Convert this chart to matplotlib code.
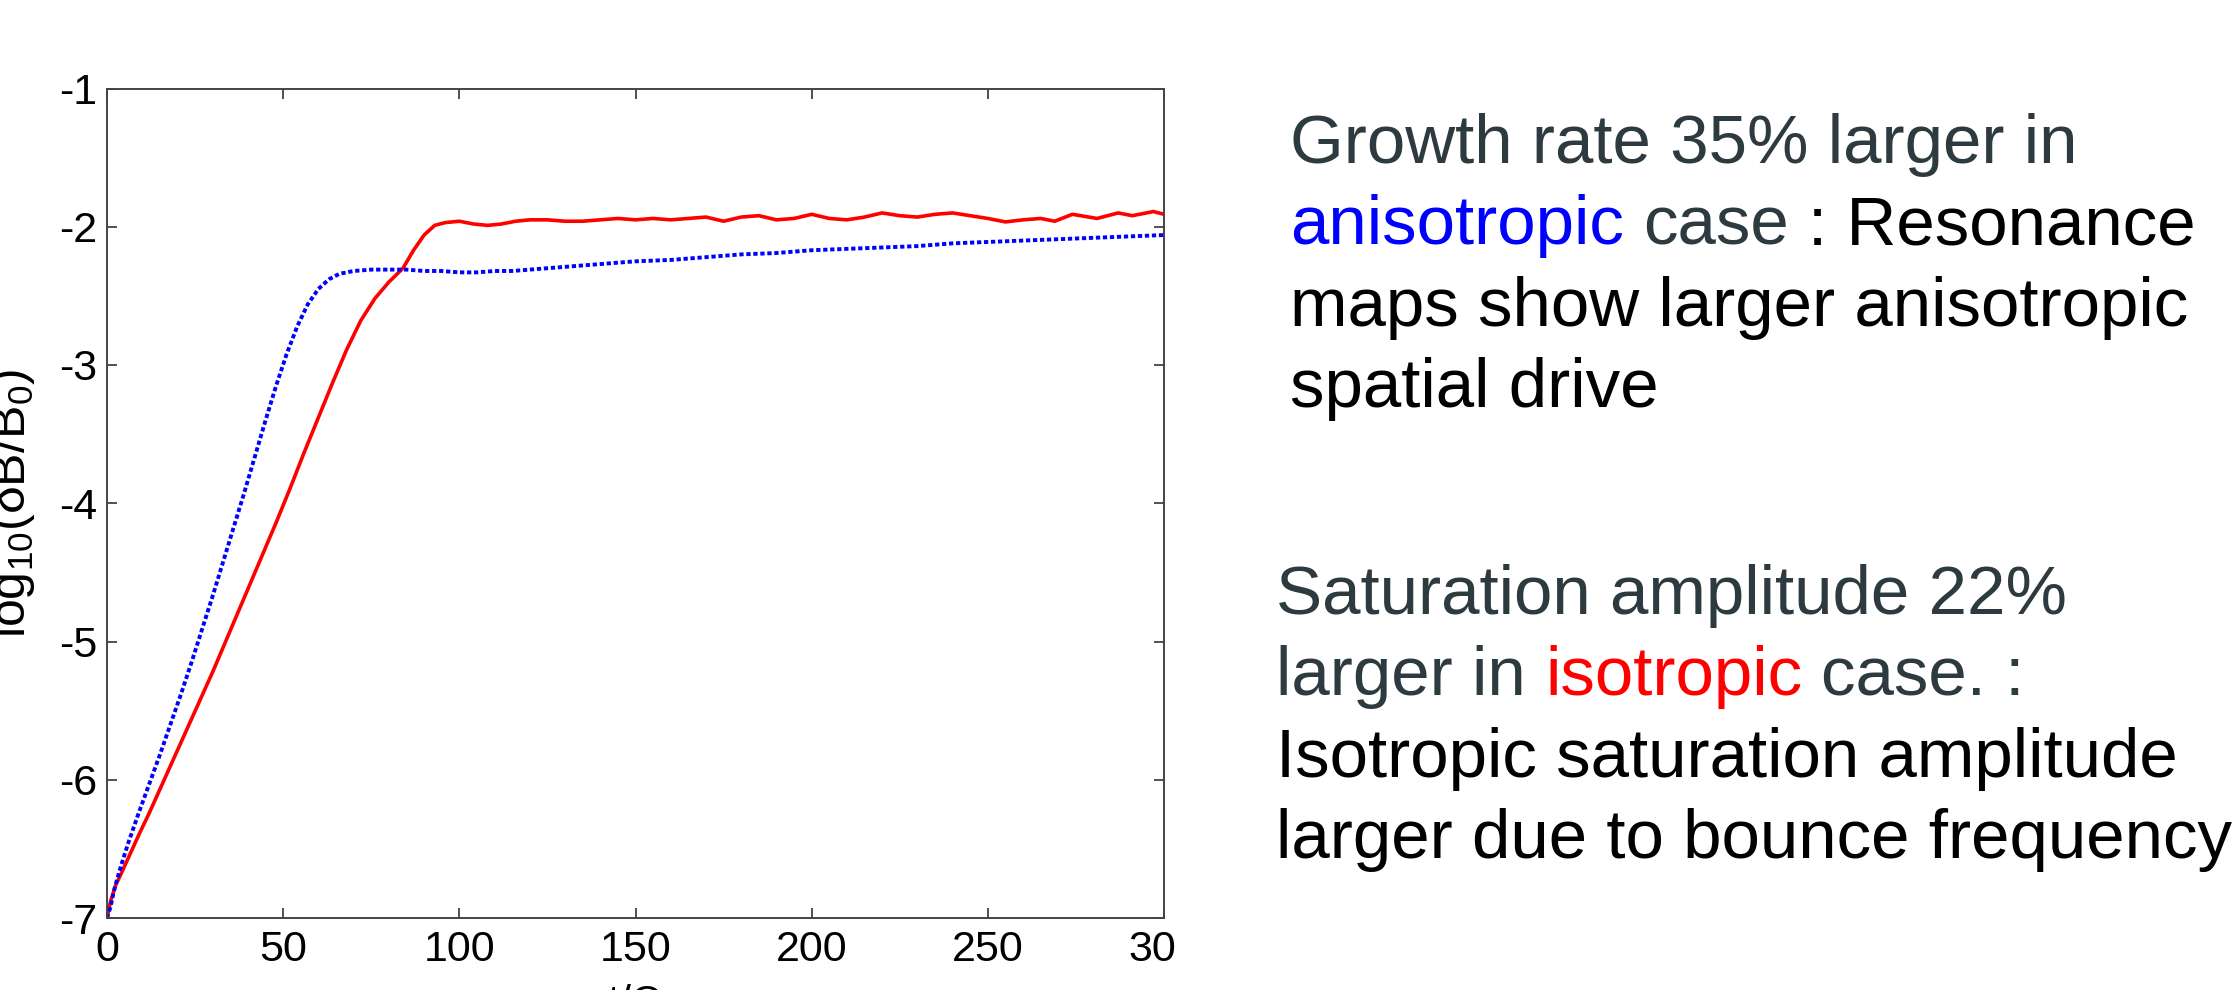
import numpy as np
import matplotlib
matplotlib.use('Agg')
import matplotlib.pyplot as plt
from matplotlib.patches import Rectangle

plt.rcParams['font.family'] = ['Liberation Sans', 'DejaVu Sans']
plt.rcParams['axes.unicode_minus'] = False
plt.rcParams['mathtext.fontset'] = 'custom'
plt.rcParams['mathtext.rm'] = 'Liberation Sans'
plt.rcParams['mathtext.it'] = 'Liberation Sans'

# isotropic run (red, solid)
t_iso = [0, 1, 2.5, 4, 6.5, 9, 12, 15, 18, 21, 24, 27, 30, 33, 36, 40, 44, 48,
         52, 56, 60, 64, 68, 72, 76, 80, 84, 87, 90, 93, 96, 100, 104, 108,
         112, 116, 120, 125, 130, 135, 140, 145, 150, 155, 160, 165, 170, 175,
         180, 185, 190, 195, 200, 205, 210, 215, 220, 225, 230, 235, 240, 245,
         250, 255, 260, 265, 269, 274, 281, 287, 291, 297, 300]
b_iso = [-7.0, -6.88, -6.76, -6.68, -6.54, -6.40, -6.24, -6.07, -5.90, -5.73,
         -5.56, -5.39, -5.22, -5.04, -4.86, -4.62, -4.38, -4.14, -3.89, -3.63,
         -3.38, -3.13, -2.89, -2.68, -2.52, -2.40, -2.30, -2.17, -2.06, -1.99,
         -1.97, -1.96, -1.98, -1.99, -1.98, -1.96, -1.95, -1.95, -1.96, -1.96,
         -1.95, -1.94, -1.95, -1.94, -1.95, -1.94, -1.93, -1.96, -1.93, -1.92,
         -1.95, -1.94, -1.91, -1.94, -1.95, -1.93, -1.90, -1.92, -1.93, -1.91,
         -1.90, -1.92, -1.94, -1.965, -1.95, -1.94, -1.96, -1.91, -1.94, -1.90,
         -1.92, -1.89, -1.91]

# anisotropic run (blue, dotted)
t_ani = [0, 1, 2, 4, 6, 9, 12, 15, 18, 21, 24, 27, 30, 33, 36, 39, 42, 45, 48,
         51, 54, 57, 60, 63, 66, 70, 75, 80, 85, 90, 95, 100, 105, 110, 115,
         120, 130, 140, 150, 160, 170, 180, 190, 200, 210, 220, 230, 240, 250,
         260, 270, 280, 290, 300]
b_ani = [-7.0, -6.92, -6.80, -6.62, -6.46, -6.24, -6.03, -5.82, -5.60, -5.38,
         -5.15, -4.91, -4.67, -4.42, -4.17, -3.92, -3.66, -3.40, -3.15, -2.92,
         -2.72, -2.56, -2.45, -2.38, -2.34, -2.32, -2.31, -2.31, -2.31, -2.32,
         -2.32, -2.33, -2.33, -2.32, -2.32, -2.31, -2.29, -2.27, -2.25, -2.24,
         -2.22, -2.20, -2.19, -2.17, -2.16, -2.15, -2.14, -2.12, -2.11, -2.10,
         -2.09, -2.08, -2.07, -2.06]

xticks = [0, 50, 100, 150, 200, 250, 300]
yticks = [-7, -6, -5, -4, -3, -2, -1]

W, H = 2240, 990
fig = plt.figure(figsize=(W / 100, H / 100), dpi=100)
fig.patch.set_facecolor('white')

ax = fig.add_axes([107 / W, (H - 918) / H, (1164 - 107) / W, (918 - 88.5) / H])
ax.plot(t_iso, b_iso, color='red', lw=2.6, solid_capstyle='round')
ax.plot(t_ani, b_ani, color='blue', lw=2.8, ls=(0, (1.1, 0.7)))

ax.set_xlim(0, 300)
ax.set_ylim(-7, -1)
ax.set_xticks(xticks)
ax.set_yticks(yticks)
ax.set_xticklabels([str(v) for v in xticks])
ax.set_yticklabels([str(v) for v in yticks])
for s in ax.spines.values():
    s.set_color('#444444')
    s.set_linewidth(1.4)
ax.tick_params(direction='in', top=True, right=True, length=7.5, width=1.2,
               color='#333333', labelsize=31, labelcolor='black')
ax.tick_params(axis='x', pad=8.5)
ax.tick_params(axis='y', pad=7.0)

ax.set_ylabel(r'log$_{10}$($\delta$B/B$_0$)', fontsize=36)
ax.yaxis.set_label_coords(-0.066, 0.5)
ax.set_xlabel('t/\u03a9', fontsize=31)
ax.xaxis.set_label_coords(0.5, -0.079)

# hide the clipped end of the last tick label
fig.patches.append(Rectangle((1177 / W, 0), (1268 - 1177) / W, 68 / H,
                             transform=fig.transFigure, facecolor='white',
                             edgecolor='none', zorder=5))

slate = '#2d3a3f'
fsize = 49.8
renderer = fig.canvas.get_renderer()


def text_w(s):
    t = fig.text(0, 0, s, fontsize=fsize)
    w = t.get_window_extent(renderer).width
    t.remove()
    return w


space_w = text_w('a a') - text_w('aa')


def draw_line(x, base, parts):
    cur = x
    for s, c in parts:
        cur += (len(s) - len(s.lstrip(' '))) * space_w
        core = s.strip(' ')
        if core:
            fig.text(cur / W, (H - base) / H, core, color=c, fontsize=fsize,
                     ha='left', va='baseline')
            cur += text_w(core)
        cur += (len(s) - len(s.rstrip(' '))) * space_w


block1 = [
    [('Growth rate 35% larger in', slate)],
    [('anisotropic', 'blue'), (' case', slate), (' : Resonance', 'black')],
    [('maps show larger anisotropic', 'black')],
    [('spatial drive', 'black')],
]
block2 = [
    [('Saturation amplitude 22%', slate)],
    [('larger in ', slate), ('isotropic', 'red'), (' case. :', slate)],
    [('Isotropic saturation amplitude', 'black')],
    [('larger due to bounce frequency', 'black')],
]
for i, parts in enumerate(block1):
    draw_line(1290, 163 + i * 81.4, parts)
for i, parts in enumerate(block2):
    draw_line(1276, 614 + i * 81.4, parts)

fig.savefig('out.png', dpi=100, facecolor='white')
